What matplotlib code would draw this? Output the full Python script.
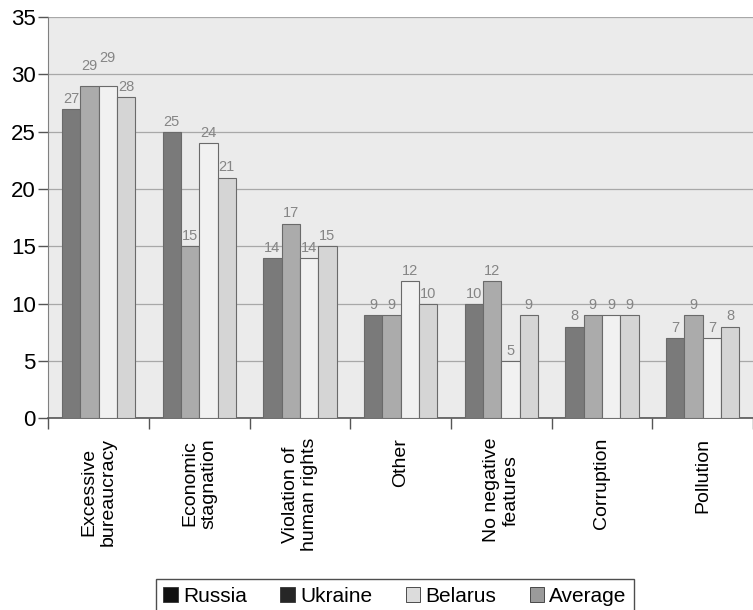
import numpy as np
import matplotlib.pyplot as plt
from matplotlib.patches import Patch

plt.rcParams['font.family'] = ['Liberation Sans', 'DejaVu Sans']

categories = ['Excessive\nbureaucracy', 'Economic\nstagnation', 'Violation of\nhuman rights',
              'Other', 'No negative\nfeatures', 'Corruption', 'Pollution']
series = ['Russia', 'Ukraine', 'Belarus', 'Average']
russia = [27, 25, 14, 9, 10, 8, 7]
ukraine = [29, 15, 17, 9, 12, 9, 9]
belarus = [29, 24, 14, 12, 5, 9, 7]
average = [28, 21, 15, 10, 9, 9, 8]

values = [russia, ukraine, belarus, average]
bar_colors = ['#7a7a7a', '#ababab', '#f1f1f1', '#d5d5d5']
legend_colors = ['#111111', '#262626', '#dcdcdc', '#9a9a9a']

# extra lift (in points) for labels that would otherwise collide
label_lift = {(1, 0): 7, (2, 0): 13}

fig = plt.figure(figsize=(7.53, 6.10), dpi=100)
ax = fig.add_axes([0.064, 0.314, 0.936, 0.658])
ax.set_facecolor('#ebebeb')

x = np.arange(len(categories))
w = 0.182
for i, (vals, col) in enumerate(zip(values, bar_colors)):
    pos = x + (i - 1.5) * w
    ax.bar(pos, vals, width=w, color=col, edgecolor='#6a6a6a', linewidth=0.8, zorder=3)
    for j, (px, v) in enumerate(zip(pos, vals)):
        ax.annotate(str(v), (px, v), xytext=(0, 4.5 + label_lift.get((i, j), 0)),
                    textcoords='offset points', ha='center', va='baseline',
                    fontsize=10.5, color='#858585', zorder=4)

ax.set_ylim(0, 35)
ax.set_yticks(range(0, 36, 5))
ax.set_xlim(-0.5, 6.35)
ax.grid(axis='y', color='#a8a8a8', linewidth=0.9, zorder=1)

# category labels centered, tick marks between groups
ax.set_xticks(x)
ax.set_xticklabels(categories, rotation=90, fontsize=14, ha='center', va='top',
                   multialignment='center')
ax.tick_params(axis='x', length=0, pad=14)
ax.set_xticks(np.arange(-0.5, 7, 1), minor=True)
ax.tick_params(axis='x', which='minor', length=8, width=1, color='#555555', direction='out')
ax.tick_params(axis='y', length=7, width=1, color='#555555', labelsize=16, pad=2)

for s in ['top', 'right']:
    ax.spines[s].set_visible(False)
ax.spines['left'].set_color('#808080')
ax.spines['bottom'].set_color('#555555')
ax.spines['bottom'].set_linewidth(1.2)

handles = [Patch(facecolor=c, edgecolor='#333333', linewidth=0.6) for c in legend_colors]
fig.legend(handles, series, loc='center', bbox_to_anchor=(395 / 753, 14 / 610), ncol=4,
           fontsize=15, frameon=True, fancybox=False, edgecolor='#222222',
           handlelength=0.7, handleheight=0.7, handletextpad=0.25, columnspacing=1.6,
           borderpad=0.35)

fig.savefig('out.png', dpi=100)
